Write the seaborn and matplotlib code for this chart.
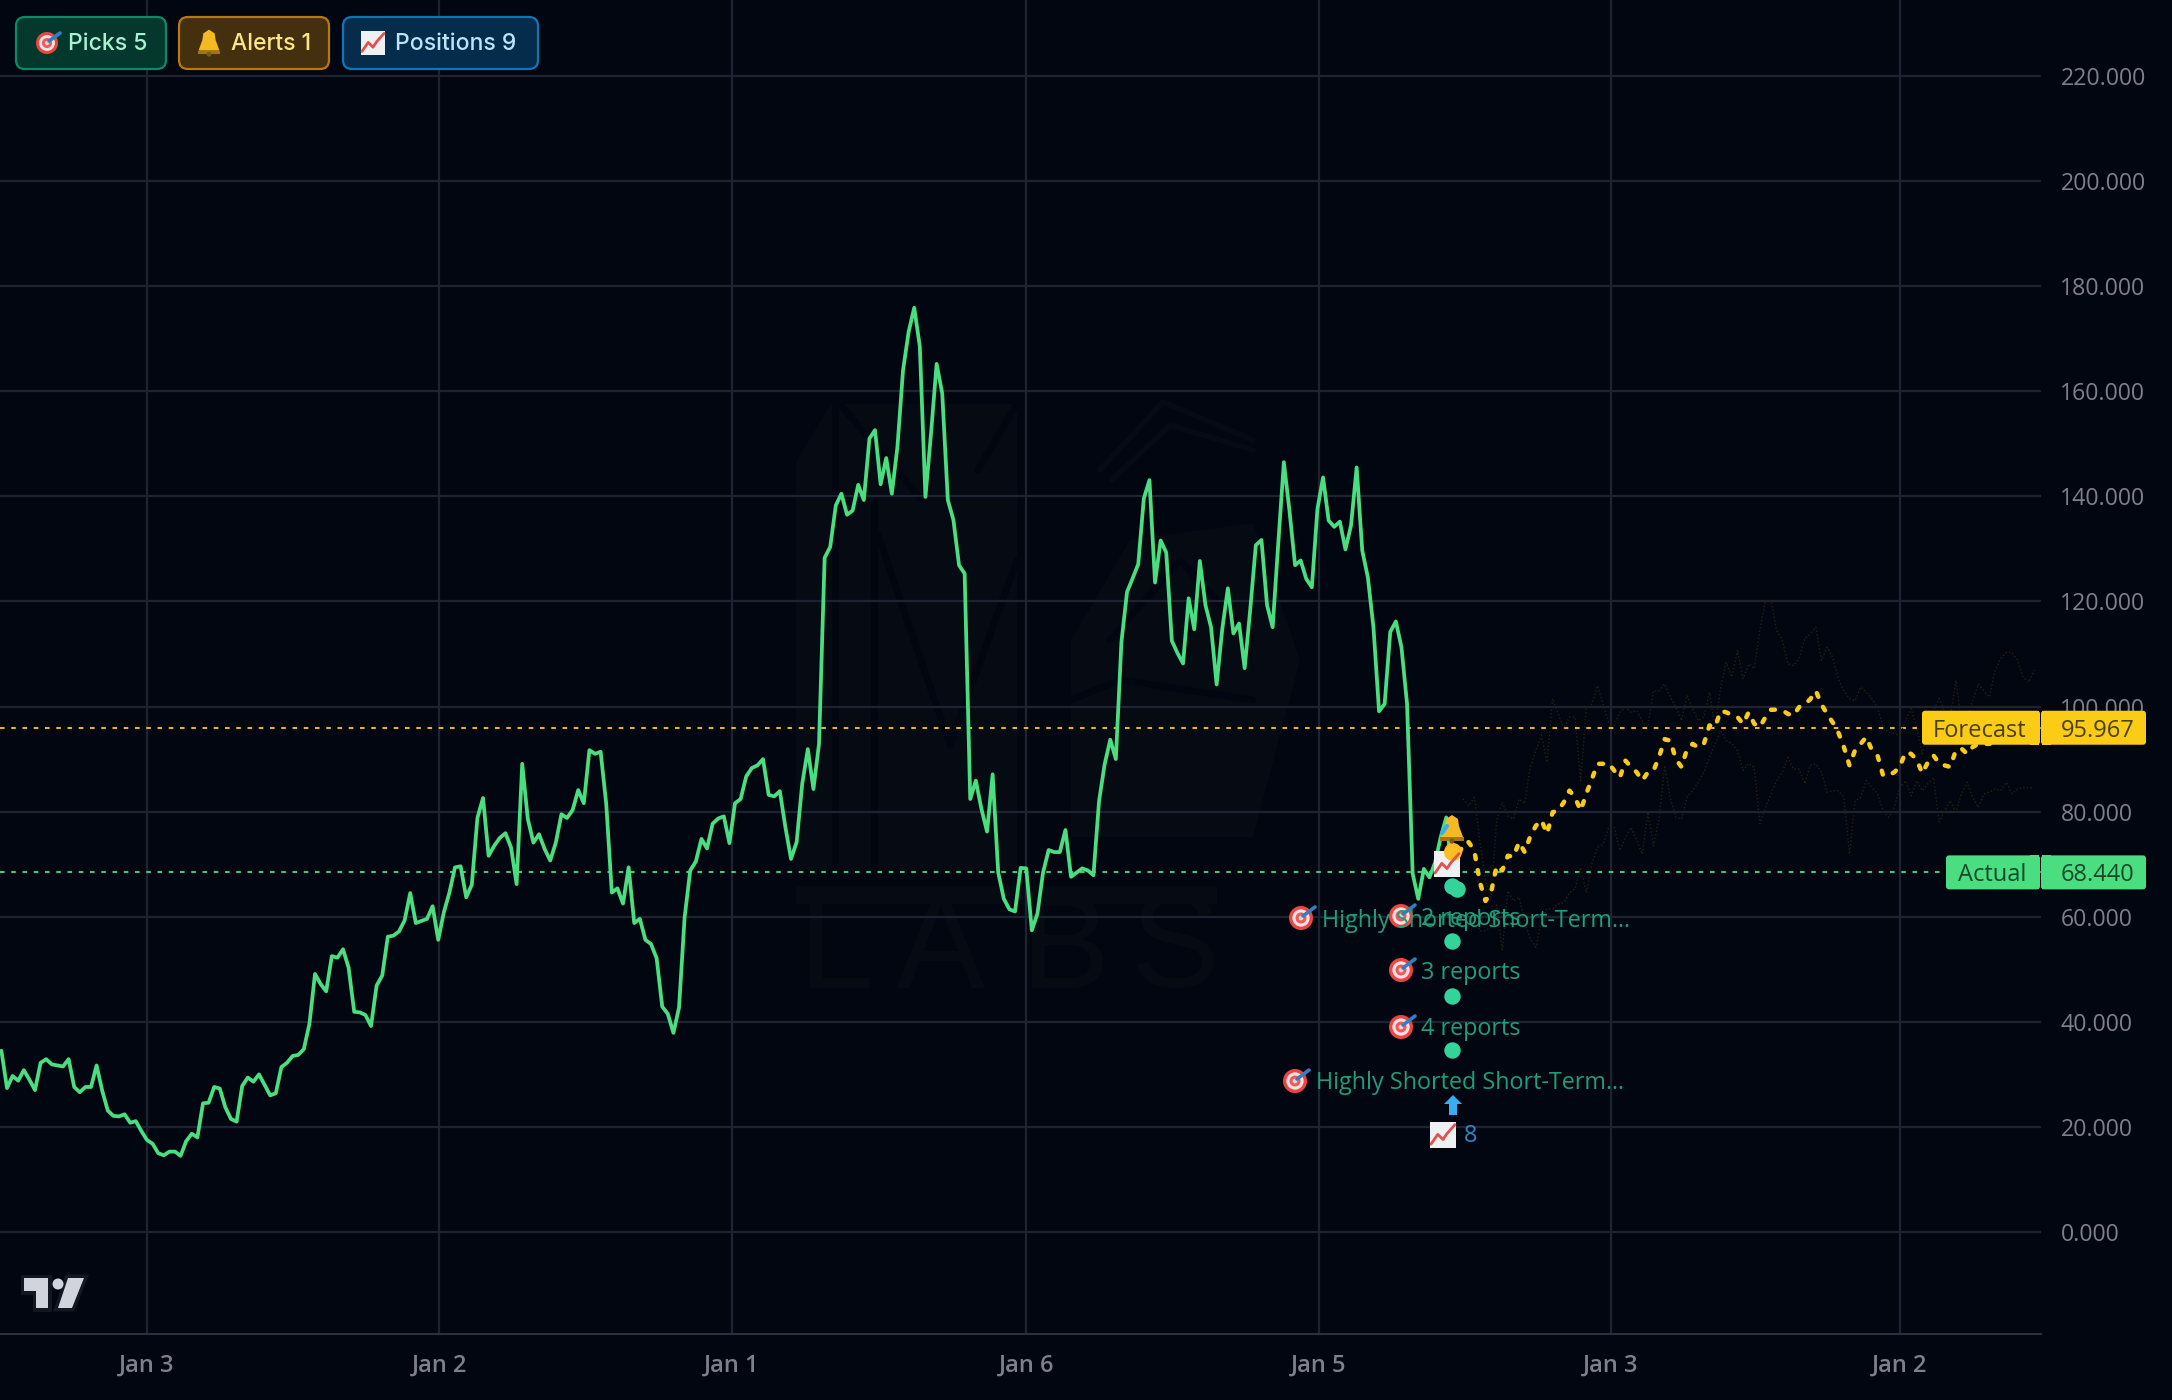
import numpy as np
import pandas as pd
import matplotlib
matplotlib.use('Agg')
import matplotlib.pyplot as plt
from matplotlib.patches import Circle, FancyBboxPatch, Polygon, Rectangle
import seaborn as sns

# weekly values, one per bar from the left edge
price = [34.5, 27.4, 29.7, 28.8, 30.8, 29.0, 27.0, 32.2, 32.9, 31.9,
         31.7, 31.5, 32.9, 27.6, 26.6, 27.6, 27.6, 31.7, 26.9, 23.1,
         22.1, 22.0, 22.4, 20.8, 21.1, 19.2, 17.5, 16.8, 15.0, 14.6,
         15.3, 15.3, 14.5, 17.3, 18.7, 18.0, 24.5, 24.6, 27.6, 27.3,
         23.7, 21.5, 21.0, 27.8, 29.4, 28.6, 30.0, 28.0, 26.0, 26.4,
         31.4, 32.2, 33.5, 33.7, 34.8, 39.6, 49.1, 47.2, 45.8, 52.5,
         52.2, 53.8, 50.3, 41.9, 41.8, 41.3, 39.2, 46.9, 48.8, 56.2,
         56.4, 57.2, 59.3, 64.5, 58.8, 59.2, 59.6, 62.0, 55.6, 60.8,
         64.6, 69.4, 69.6, 63.7, 66.1, 78.8, 82.6, 71.6, 73.5, 75.0,
         75.9, 73.2, 66.2, 89.1, 78.6, 74.1, 75.7, 72.9, 70.7, 74.1,
         79.5, 78.8, 80.3, 84.1, 81.6, 91.7, 91.0, 91.4, 81.5, 64.6,
         65.4, 62.5, 69.4, 58.8, 59.6, 55.6, 54.8, 52.1, 42.9, 41.5,
         37.9, 42.7, 59.9, 68.8, 70.5, 74.8, 73.0, 77.7, 78.7, 79.1,
         74.0, 81.6, 82.4, 86.7, 88.3, 88.8, 90.0, 83.2, 82.9, 83.9,
         77.0, 71.0, 74.2, 85.3, 91.9, 84.3, 92.9, 128.3, 130.4, 138.3,
         140.5, 136.5, 137.3, 142.2, 139.3, 151.0, 152.6, 142.3, 147.3, 140.5,
         149.4, 164.0, 171.3, 175.9, 168.5, 139.9, 152.0, 165.2, 159.6, 139.3,
         135.5, 126.9, 125.3, 82.4, 85.9, 80.5, 76.2, 87.1, 68.4, 63.4,
         61.4, 61.0, 69.3, 69.2, 57.4, 60.6, 68.4, 72.7, 72.3, 72.3,
         76.5, 67.6, 68.4, 69.2, 68.8, 67.9, 82.0, 89.0, 93.7, 90.0,
         112.3, 121.8, 124.4, 127.1, 139.6, 143.1, 123.6, 131.6, 129.3, 112.5,
         110.2, 108.2, 120.6, 114.7, 127.7, 119.3, 115.1, 104.2, 114.7, 122.5,
         113.9, 115.8, 107.3, 118.5, 130.7, 131.7, 119.3, 115.1, 131.0, 146.5,
         137.3, 126.9, 127.8, 124.3, 122.7, 137.6, 143.6, 135.4, 134.2, 135.2,
         129.9, 134.5, 145.5, 129.7, 124.6, 115.1, 99.1, 100.5, 114.2, 116.2,
         111.3, 100.5, 68.2, 63.4, 69.1, 67.5, 70.3, 75.1, 78.9, 68.44]

forecast_start = 259
forecast = [72.2, 71.0, 73.9, 74.2, 72.6, 66.6, 63.0, 64.6, 69.7, 68.8,
            71.6, 71.4, 74.2, 72.3, 75.3, 77.3, 78.4, 75.8, 79.9, 80.2,
            81.8, 84.0, 82.7, 80.2, 83.4, 86.2, 89.1, 89.1, 89.2, 87.8,
            86.5, 89.7, 88.5, 87.5, 85.9, 87.5, 87.8, 90.4, 93.8, 93.5,
            90.0, 88.5, 91.9, 92.9, 92.2, 92.9, 96.4, 96.1, 99.2, 98.9,
            98.4, 98.0, 96.7, 98.9, 96.7, 96.1, 98.0, 99.4, 99.4, 99.3,
            98.6, 98.3, 99.9, 100.4, 101.4, 103.0, 100.4, 98.6, 97.0, 95.1,
            92.3, 88.8, 91.7, 92.9, 94.2, 91.7, 90.7, 86.9, 86.9, 87.5,
            88.6, 91.3, 91.0, 89.9, 87.3, 89.4, 90.7, 89.2, 88.8, 88.5,
            91.7, 92.0, 91.0, 92.3, 92.9, 92.9, 92.9, 93.5, 94.0, 94.5,
            95.0, 95.3, 95.5, 95.8, 95.967]

upper_start = 261
upper_band = [82.4, 81.1, 82.7, 74.5, 66.9, 63.7, 78.3, 81.8, 79.2, 78.6,
              82.4, 81.5, 88.4, 91.6, 94.5, 89.4, 101.5, 98.6, 95.7, 98.0,
              98.0, 85.9, 99.6, 100.5, 104.0, 100.5, 97.0, 96.4, 98.9, 99.9,
              98.9, 99.2, 97.3, 96.1, 103.0, 103.0, 104.3, 101.8, 99.9, 97.3,
              102.1, 99.6, 97.3, 98.0, 102.7, 96.1, 103.7, 108.4, 105.6, 110.7,
              105.3, 108.1, 107.2, 114.5, 120.2, 120.2, 114.5, 112.6, 108.1, 107.8,
              109.1, 112.9, 113.8, 115.1, 108.8, 111.3, 109.4, 105.3, 103.0, 101.5,
              101.1, 103.7, 102.7, 101.5, 99.9, 96.1, 95.1, 94.8, 94.5, 97.3,
              99.6, 96.1, 91.0, 96.7, 99.2, 101.5, 99.2, 98.0, 105.0, 97.3,
              97.3, 101.1, 104.3, 103.0, 101.8, 106.9, 109.1, 110.3, 110.3, 108.8,
              105.6, 104.6, 106.9]

lower_start = 262
lower_band = [58.0, 60.5, 57.3, 57.3, 58.0, 62.4, 53.5, 64.9, 63.0, 63.7,
              59.2, 55.7, 54.2, 59.2, 61.5, 61.5, 62.4, 62.7, 64.6, 65.3,
              69.4, 64.6, 70.0, 73.2, 73.8, 77.0, 77.0, 72.6, 75.1, 77.0,
              74.5, 71.9, 79.9, 73.5, 78.6, 88.8, 82.7, 78.9, 78.6, 82.7,
              84.0, 85.6, 87.5, 90.3, 92.9, 95.4, 93.5, 92.9, 91.6, 87.8,
              89.2, 88.4, 77.7, 80.8, 83.4, 85.9, 87.5, 90.3, 88.1, 88.1,
              85.3, 88.8, 89.1, 87.5, 83.7, 84.0, 84.0, 82.7, 71.9, 82.1,
              82.7, 85.9, 84.6, 83.4, 80.2, 78.9, 80.8, 84.6, 85.9, 83.0,
              85.9, 84.0, 85.3, 86.5, 78.0, 80.2, 82.1, 79.9, 83.4, 85.6,
              82.7, 80.8, 83.4, 83.7, 84.3, 84.0, 85.6, 83.4, 84.3, 84.6,
              84.5, 84.6]

dot_weeks = [259, 260, 259, 259, 259]
dot_values = [65.8, 65.2, 55.4, 45.0, 34.7]

forecast_last = 95.967
actual_last = 68.44

tick_weeks = [26, 78.2, 130.4, 183, 235.2, 287.4, 339]
tick_labels = ['Jan 3', 'Jan 2', 'Jan 1', 'Jan 6', 'Jan 5', 'Jan 3', 'Jan 2']
price_ticks = list(range(0, 221, 20))

badge_names = ['Picks 5', 'Alerts 1', 'Positions 9']
pick_labels = ['Highly Shorted Short-Term…', '2 reports', '3 reports', '4 reports',
               'Highly Shorted Short-Term…']

BG = '#020611'
GRID = '#1d2330'
GREEN = '#4ade80'
GOLD = '#facc15'
TEAL = '#1f9e7a'
FAINT = '#060a13'

sns.set_theme(style='dark', rc={'axes.facecolor': BG, 'figure.facecolor': BG})
plt.rcParams['font.family'] = ['Open Sans', 'DejaVu Sans']

fig = plt.figure(figsize=(21.72, 14), dpi=100)

# back layer in pixels for the watermark, front layer for badges and icons
back = fig.add_axes([0, 0, 1, 1], zorder=0)
back.set_xlim(0, 2172)
back.set_ylim(1400, 0)
back.axis('off')

ax = fig.add_axes([0, 66 / 1400, 2041 / 2172, 1334 / 1400], zorder=1)
ax.patch.set_alpha(0)

front = fig.add_axes([0, 0, 1, 1], zorder=2)
front.set_xlim(0, 2172)
front.set_ylim(1400, 0)
front.axis('off')

# watermark, barely lighter than the background
back.add_patch(Polygon([(796, 462), (831, 404), (1017, 404), (1017, 870), (796, 870)], color=FAINT, lw=0))
back.add_patch(Polygon([(1071, 640), (1130, 540), (1253, 523), (1300, 660), (1253, 837), (1071, 837)],
                       color=FAINT, lw=0))
back.add_patch(Rectangle((796, 886), 421, 18, color=FAINT, lw=0))
for pts in [[(835, 404), (835, 870)], [(874, 500), (874, 870)], [(878, 535), (950, 745), (1017, 560)],
            [(840, 404), (920, 498)], [(1017, 404), (978, 470)], [(1071, 700), (1120, 680), (1253, 700)],
            [(1110, 640), (1180, 560), (1253, 640)]]:
    back.plot(*zip(*pts), color=BG, lw=5)
for pts in [[(1100, 470), (1163, 402), (1253, 440)], [(1112, 480), (1170, 425), (1253, 450)]]:
    back.plot(*zip(*pts), color=FAINT, lw=4)
for letter, x_px in zip('LABS', [836, 940, 1065, 1175]):
    back.text(x_px, 953, letter, color=FAINT, fontsize=96, ha='center', va='center', family='Liberation Sans')

price_df = pd.DataFrame({'week': np.arange(len(price)), 'value': price})
forecast_df = pd.DataFrame({'week': np.arange(len(forecast)) + forecast_start, 'value': forecast})
upper_df = pd.DataFrame({'week': np.arange(len(upper_band)) + upper_start, 'value': upper_band})
lower_df = pd.DataFrame({'week': np.arange(len(lower_band)) + lower_start, 'value': lower_band})

for band in [upper_df, lower_df]:
    sns.lineplot(data=band, x='week', y='value', ax=ax, color='#26220f', linewidth=1.0,
                 linestyle=(0, (1, 1.6)), errorbar=None, estimator=None)

ax.axhline(forecast_last, color='#e6b80f', lw=1.5, linestyle=(0, (2.2, 3.2)), zorder=1.5)
ax.axhline(actual_last, color='#3fc878', lw=1.5, linestyle=(0, (2.2, 3.2)), zorder=1.5)

sns.lineplot(data=price_df, x='week', y='value', ax=ax, color=GREEN, linewidth=2.7,
             errorbar=None, estimator=None)
sns.lineplot(data=forecast_df, x='week', y='value', ax=ax, color=GOLD, linewidth=3.2,
             linestyle=(0, (0.9, 2.5)), dash_capstyle='round', errorbar=None, estimator=None)
sns.scatterplot(x=dot_weeks, y=dot_values, ax=ax, color='#34d399', s=140, linewidth=0, zorder=4)

ax.set_xlim(-0.25, 364.2)
ax.set_ylim(-19.41, 234.46)
ax.set_xlabel('')
ax.set_ylabel('')
ax.set_xticks(tick_weeks)
ax.set_xticklabels(tick_labels, fontweight='semibold')
ax.set_yticks(price_ticks)
ax.set_yticklabels([f'{v:.3f}' for v in price_ticks])
ax.yaxis.tick_right()
ax.tick_params(axis='y', length=0, pad=14, labelsize=16.7, labelcolor='#7d8089')
ax.tick_params(axis='x', length=0, pad=14, labelsize=17, labelcolor='#7d8089')
ax.grid(True, color=GRID, lw=1.6)
ax.set_axisbelow(True)
sns.despine(ax=ax, top=True, left=True)
for side in ['right', 'bottom']:
    ax.spines[side].set_color('#2a3040')
    ax.spines[side].set_linewidth(1.5)


def draw_target(x, y, r=12):
    for frac, col in zip([1, 0.72, 0.46, 0.2], ['#ef4444', '#fde2e2', '#ef5a5a', '#e8d5d5']):
        front.add_patch(Circle((x, y), r * frac, color=col, lw=0))
    front.plot([x + 2, x + r + 2], [y - 2, y - r + 1], color='#2f7fc1', lw=2.6, solid_capstyle='round')


def draw_bell(x, y, s=1.0):
    body = [(x - 11 * s, y + 9 * s), (x - 7 * s, y - 2 * s), (x - 6 * s, y - 9 * s), (x, y - 13 * s),
            (x + 6 * s, y - 9 * s), (x + 7 * s, y - 2 * s), (x + 11 * s, y + 9 * s)]
    front.add_patch(Polygon(body, color='#f5b921', lw=0))
    front.add_patch(Rectangle((x - 12 * s, y + 9 * s), 24 * s, 3.5 * s, color='#a8740f', lw=0))
    front.add_patch(Circle((x, y + 13 * s), 2.5 * s, color='#7d5a12', lw=0))


def draw_chart(x, y, s=13):
    front.add_patch(Rectangle((x - s, y - s), 2 * s, 2 * s, color='#eef0f2', lw=0))
    front.plot([x - s + 1, x - s * 0.4, x, x + s * 0.3, x + s - 1],
               [y + s * 0.7, y - s * 0.05, y + s * 0.35, y - s * 0.1, y - s * 0.8],
               color='#e0524f', lw=2)


# marker labels near the last bar
target_spots = [(1301, 918), (1401, 916), (1401, 970), (1401, 1027), (1295, 1081)]
label_spots = [(1322, 921), (1421, 919), (1421, 973), (1421, 1029), (1316, 1083)]
for (tx, ty), (lx, ly), label in zip(target_spots, label_spots, pick_labels):
    draw_target(tx, ty)
    front.text(lx, ly, label, color=TEAL, fontsize=16.8, va='center', ha='left')

front.add_patch(Polygon([(1453, 1095), (1444, 1104), (1449, 1104), (1449, 1115), (1457, 1115),
                         (1457, 1104), (1462, 1104)], color='#38aef0', lw=0))
draw_chart(1443, 1135)
front.text(1464, 1136, '8', color='#2f86c5', fontsize=17, va='center', ha='left')
front.plot([1442, 1447], [833, 826], color='#38aef0', lw=3)
draw_chart(1447, 864)
front.add_patch(Circle((1453, 852), 9, color='#fbbf24', lw=0))
draw_bell(1452, 828)

# price tags on the right
tags = [(forecast_last, 'Forecast', GOLD, 1922, '#4a3f10'), (actual_last, 'Actual', GREEN, 1946, '#15482b')]
for value, name, col, left, tcol in tags:
    y_px = 1400 - ax.transData.transform((0, value))[1]
    front.add_patch(FancyBboxPatch((left + 3, y_px - 14), 2037 - left - 3, 28, boxstyle='round,pad=3,rounding_size=3',
                                   color=col, lw=0))
    front.add_patch(FancyBboxPatch((2044, y_px - 14), 99, 28, boxstyle='round,pad=3,rounding_size=3',
                                   color=col, lw=0))
    front.add_patch(Rectangle((2030, y_px - 17), 9, 34, color=col, lw=0))
    front.add_patch(Rectangle((2042, y_px - 17), 9, 34, color=col, lw=0))
    front.text(2026, y_px + 3, name, color=tcol, fontsize=17, ha='right', va='center')
    front.text(2061, y_px + 3, f'{value:.3f}', color=tcol, fontsize=17, ha='left', va='center')

# badges at the top left
badge_boxes = [(16, 150), (179, 150), (343, 195)]
badge_fill = ['#05382d', '#44300e', '#052c4a']
badge_edge = ['#0b8a63', '#b8770f', '#0b76b8']
badge_text = ['#a7f3d0', '#fde68a', '#bae6fd']
badge_text_x = [68, 231, 395]
for (bx, bw), fill, edge, tcol, tx, name in zip(badge_boxes, badge_fill, badge_edge, badge_text, badge_text_x, badge_names):
    front.add_patch(FancyBboxPatch((bx + 8, 17 + 8), bw - 16, 36, boxstyle='round,pad=8,rounding_size=9',
                                   facecolor=fill, edgecolor=edge, lw=1.6))
    front.text(tx, 44, name, color=tcol, fontsize=16.5, va='center', ha='left', family=['Inter', 'DejaVu Sans'],
               fontweight='medium')
draw_target(47, 43, r=11)
draw_bell(209, 42, s=0.95)
draw_chart(373, 43, s=12)

# chart logo in the bottom left corner
tv_t = [(24, 1278), (48, 1278), (48, 1308), (36, 1308), (36, 1291), (24, 1291)]
tv_slash = [(68, 1278), (84, 1278), (72, 1308), (58, 1308)]
for shape in [tv_t, tv_slash]:
    front.add_patch(Polygon(shape, facecolor='#d1d4dc', edgecolor='#131722', lw=5, joinstyle='miter', zorder=3))
    front.add_patch(Polygon(shape, color='#d1d4dc', lw=0, zorder=4))
front.add_patch(Circle((58, 1284), 5.5, color='#d1d4dc', lw=0, zorder=4))

fig.savefig('out.png', dpi=100, facecolor=BG)
